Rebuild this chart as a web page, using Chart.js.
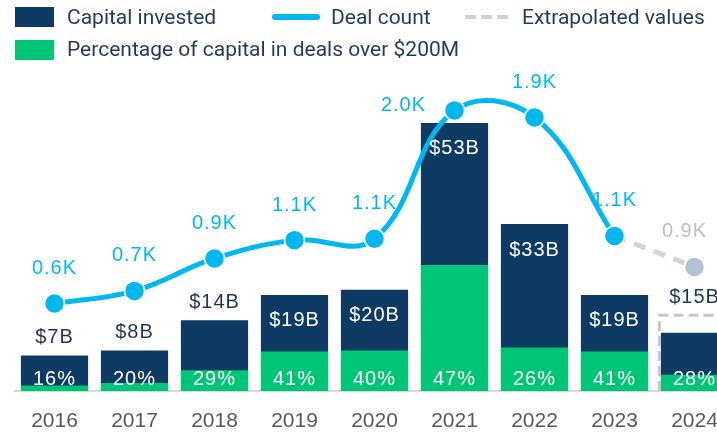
<!DOCTYPE html>
<html lang="en">

<head>
  <meta charset="UTF-8">
  <meta name="viewport" content="width=device-width, initial-scale=1.0">
  <title>Capital invested and deal count</title>
  <script src="https://cdn.jsdelivr.net/npm/chart.js"></script>
  <style>
    html, body {
      margin: 0;
      padding: 0;
      overflow: hidden;
      background: #fff;
    }

    .wrap {
      position: relative;
      width: 740px;
      height: 432px;
    }

    .leg {
      position: absolute;
      font-family: Roboto, sans-serif;
      font-size: 21px;
      line-height: 24px;
      color: #1f3a5c;
      white-space: nowrap;
    }

    .box {
      position: absolute;
    }
  </style>
</head>

<body>
  <div class="wrap">
    <canvas id="grafico" width="740" height="432"></canvas>

    <!-- legenda feita a mao -->
    <div class="box" style="left:15px;top:7px;width:39px;height:20px;background:#0e3b63"></div>
    <div class="leg" style="left:67px;top:5px">Capital invested</div>
    <div class="box" style="left:272px;top:14px;width:48px;height:6px;border-radius:3px;background:#00b8f1"></div>
    <div class="leg" style="left:331px;top:5px">Deal count</div>
    <div class="box" style="left:465px;top:15px;width:11px;height:4px;background:#cfcfcf"></div>
    <div class="box" style="left:481px;top:15px;width:11px;height:4px;background:#cfcfcf"></div>
    <div class="box" style="left:497px;top:15px;width:11px;height:4px;background:#cfcfcf"></div>
    <div class="leg" style="left:522px;top:5px">Extrapolated values</div>
    <div class="box" style="left:15px;top:40px;width:39px;height:20px;background:#00c576"></div>
    <div class="leg" style="left:67px;top:37px">Percentage of capital in deals over $200M</div>
  </div>

  <script>
    // dados
    const years = ['2016', '2017', '2018', '2019', '2020', '2021', '2022', '2023', '2024'];
    const capitalInvested = [7, 8, 14, 19, 20, 53, 33, 19, 11.5];
    const capitalOver200M = [1.1, 1.6, 4.1, 7.8, 8.0, 24.9, 8.6, 7.8, 3.2];
    const capitalExtrapolated = [null, null, null, null, null, null, null, null, 15];
    const capitalLabels = ['$7B', '$8B', '$14B', '$19B', '$20B', '$53B', '$33B', '$19B', '$15B'];
    const pctLabels = ['16%', '20%', '29%', '41%', '40%', '47%', '26%', '41%', '28%'];
    const dealCount = [0.62, 0.71, 0.94, 1.07, 1.08, 1.99, 1.94, 1.10, null];
    const dealCountExtrapolated = [null, null, null, null, null, null, null, 1.10, 0.88];
    const dealLabels = ['0.6K', '0.7K', '0.9K', '1.1K', '1.1K', '2.0K', '1.9K', '1.1K', '0.9K'];

    const NAVY = '#0e3b63';
    const GREEN = '#00c576';
    const BLUE = '#00b8f1';
    const labelFont = '20px "Liberation Sans", Arial, sans-serif';

    // contorno tracejado da barra extrapolada
    const dashedOutline = {
      id: 'dashedOutline',
      afterDatasetsDraw(chart) {
        const ctx = chart.ctx;
        const meta = chart.getDatasetMeta(4);
        meta.data.forEach((el, i) => {
          if (capitalExtrapolated[i] == null) return;
          const l = el.x - el.width / 2 - 1.5;
          const r = el.x + el.width / 2 + 1.5;
          ctx.save();
          ctx.strokeStyle = '#c8c8c8';
          ctx.lineWidth = 3;
          ctx.setLineDash([10, 5]);
          ctx.beginPath();
          ctx.moveTo(l, el.base);
          ctx.lineTo(l, el.y);
          ctx.lineTo(r, el.y);
          ctx.lineTo(r, el.base);
          ctx.stroke();
          ctx.restore();
        });
      }
    };

    // rotulos de dados
    const dataLabels = {
      id: 'dataLabels',
      afterDraw(chart) {
        const ctx = chart.ctx;
        ctx.save();
        ctx.font = labelFont;
        ctx.letterSpacing = '1px';
        ctx.textAlign = 'center';
        ctx.textBaseline = 'middle';

        const bars = chart.getDatasetMeta(3).data;
        const outline = chart.getDatasetMeta(4).data;
        bars.forEach((el, i) => {
          // capital
          if (i === 8) {
            ctx.fillStyle = '#1c3557';
            ctx.fillText(capitalLabels[i], el.x, outline[i].y - 18);
          } else if (i <= 2) {
            ctx.fillStyle = '#1c3557';
            ctx.fillText(capitalLabels[i], el.x, el.y - 18);
          } else {
            ctx.fillStyle = '#ffffff';
            ctx.fillText(capitalLabels[i], el.x, el.y + 26);
          }
          // percentual
          ctx.fillStyle = '#ffffff';
          ctx.fillText(pctLabels[i], el.x, el.base - 12);
        });

        const pts = chart.getDatasetMeta(0).data;
        const ptsExt = chart.getDatasetMeta(1).data;
        dealLabels.forEach((txt, i) => {
          let p = i === 8 ? ptsExt[i] : pts[i];
          let dx = 0, dy = -35;
          if (i === 5) { dx = -51; dy = -5; }
          if (i === 8) { dx = -10; }
          ctx.fillStyle = i === 8 ? '#c0c0c0' : BLUE;
          ctx.fillText(txt, p.x + dx, p.y + dy);
        });
        ctx.restore();
      }
    };

    const ctx = document.getElementById('grafico').getContext('2d');
    new Chart(ctx, {
      data: {
        labels: years,
        datasets: [
          {
            type: 'line',
            label: 'Deal count',
            data: dealCount,
            yAxisID: 'yDeals',
            borderColor: BLUE,
            borderWidth: 5,
            tension: 0.4,
            pointRadius: 10,
            pointBackgroundColor: BLUE,
            pointBorderColor: '#ffffff',
            pointBorderWidth: 1.5,
            order: 0
          },
          {
            type: 'line',
            label: 'Extrapolated values',
            data: dealCountExtrapolated,
            yAxisID: 'yDeals',
            borderColor: '#d4d4d4',
            borderWidth: 5,
            borderDash: [12, 9],
            pointRadius: [0, 0, 0, 0, 0, 0, 0, 0, 10],
            pointBackgroundColor: '#b3c1d1',
            pointBorderColor: '#ffffff',
            pointBorderWidth: 1.5,
            order: 1
          },
          {
            type: 'bar',
            label: 'Percentage of capital in deals over $200M',
            data: capitalOver200M,
            yAxisID: 'yCapital',
            backgroundColor: GREEN,
            grouped: false,
            categoryPercentage: 1,
            barPercentage: 0.84,
            order: 2
          },
          {
            type: 'bar',
            label: 'Capital invested',
            data: capitalInvested,
            yAxisID: 'yCapital',
            backgroundColor: NAVY,
            grouped: false,
            categoryPercentage: 1,
            barPercentage: 0.84,
            order: 3
          },
          {
            type: 'bar',
            label: 'Capital extrapolated',
            data: capitalExtrapolated,
            yAxisID: 'yCapital',
            backgroundColor: 'rgba(0,0,0,0)',
            grouped: false,
            categoryPercentage: 1,
            barPercentage: 0.84,
            order: 4
          }
        ]
      },
      options: {
        responsive: false,
        animation: false,
        layout: { autoPadding: false, padding: { left: 14.5, right: 5.5, top: 0, bottom: 0 } },
        plugins: {
          legend: { display: false },
          tooltip: { enabled: false }
        },
        scales: {
          x: {
            grid: { display: false, drawTicks: false },
            border: { display: true, color: '#d9d9d9', width: 2 },
            ticks: {
              color: '#595959',
              font: { family: '"Liberation Sans", Arial, sans-serif', size: 21 },
              padding: 18,
              maxRotation: 0
            },
            afterFit: s => { s.height = 41; }
          },
          yCapital: { display: false, min: 0, max: 77.3 },
          yDeals: { display: false, min: 0, max: 2.773 }
        }
      },
      plugins: [dashedOutline, dataLabels]
    });
  </script>
</body>

</html>
